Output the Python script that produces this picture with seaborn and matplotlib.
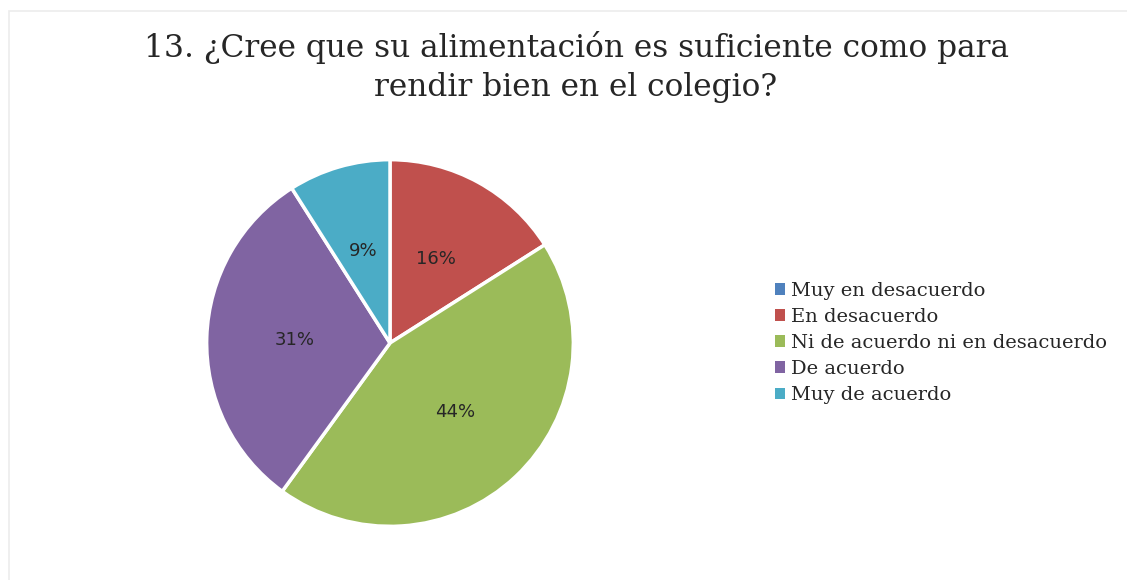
import matplotlib
matplotlib.use("Agg")
import matplotlib.pyplot as plt
import seaborn as sns
from matplotlib.patches import Rectangle, Patch

categories = ["Muy en desacuerdo", "En desacuerdo", "Ni de acuerdo ni en desacuerdo",
              "De acuerdo", "Muy de acuerdo"]
percentages = [0, 16, 44, 31, 9]
colors = ["#4F81BD", "#C0504D", "#9BBB59", "#8064A2", "#4BACC6"]
title = "13. ¿Cree que su alimentación es suficiente como para\nrendir bien en el colegio?"

sns.set_theme(style="white")
plt.rcParams["font.family"] = ["DejaVu Sans"]

W, H = 1127, 580
fig = plt.figure(figsize=(W / 100, H / 100), dpi=100)
fig.patch.set_facecolor("white")

# faint chart-area frame
fig.add_artist(Rectangle((9 / W, -0.01), 1.2, (H - 11) / H + 0.01, transform=fig.transFigure,
                         fill=False, edgecolor="#ececec", linewidth=1.2))

cx, cy, r = 390, 343, 187
ax = fig.add_axes([(cx - r) / W, (H - cy - r) / H, 2 * r / W, 2 * r / H])

def fmt(p):
    return f"{p:.0f}%" if p > 0.5 else ""

wedges, texts, autotexts = ax.pie(
    percentages, colors=colors, startangle=90, counterclock=False,
    autopct=fmt, pctdistance=0.52,
    wedgeprops=dict(edgecolor="white", linewidth=2.5),
    textprops=dict(fontsize=13, color="#262626"),
)
ax.set_xlim(-1.02, 1.02)
ax.set_ylim(-1.02, 1.02)
ax.set_aspect("equal")
ax.axis("off")

fig.text(576 / W, 1 - 67 / H, title, ha="center", va="center", fontsize=22.5,
         family=["DejaVu Serif"], color="#262626", linespacing=1.3)

handles = [Patch(facecolor=c, edgecolor="none") for c in colors]
fig.legend(handles, categories, loc="upper left", bbox_to_anchor=(765 / W, 1 - 272 / H),
           frameon=False, prop=dict(family="DejaVu Serif", size=14),
           handlelength=0.55, handleheight=0.55, handletextpad=0.3,
           labelspacing=0.42, borderpad=0, labelcolor="#262626")

fig.savefig("out.png", dpi=100, facecolor="white")
